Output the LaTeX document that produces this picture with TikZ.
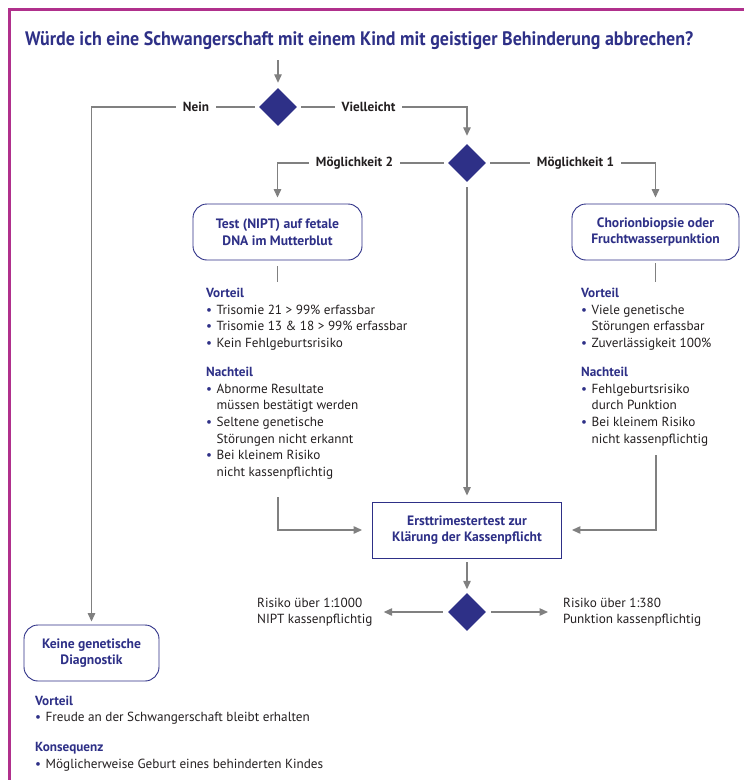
\documentclass[tikz,border=0pt]{standalone}
\usepackage{fontspec}
\setmainfont{PT Sans}
\usetikzlibrary{shapes.geometric,arrows.meta}
\definecolor{dblue}{HTML}{2E3087}
\definecolor{framemag}{HTML}{B0308C}
\definecolor{lgrey}{HTML}{808080}
\definecolor{txtc}{HTML}{231F20}
\newcommand{\bul}{\textcolor{dblue}{\textbullet}}
\newcommand{\hd}[1]{\textcolor{dblue}{\bfseries #1}}
\newcommand{\hdrow}[1]{\multicolumn{2}{@{}l@{}}{\hd{#1}}}
\begin{document}
\begin{tikzpicture}[x=1pt,y=-1pt,
  dia/.style={diamond, fill=dblue, minimum width=38pt, minimum height=38pt, inner sep=0pt},
  rbox/.style={draw=dblue, line width=0.9pt, rounded corners=14pt, align=center, text=dblue,
    font=\bfseries\fontsize{13.6}{16.5}\selectfont, inner sep=0pt},
  sbox/.style={draw=dblue, line width=0.9pt, align=center, text=dblue,
    font=\bfseries\fontsize{13.6}{16.5}\selectfont, inner sep=0pt},
  conn/.style={draw=lgrey, line width=1.3pt},
  arr/.style={conn, -{Triangle[width=7.5pt,length=8.5pt]}, shorten >=5pt},
  lbl/.style={fill=white, inner xsep=7pt, inner ysep=2pt, text=txtc, font=\bfseries\fontsize{13.2}{15}\selectfont},
  blk/.style={inner sep=0pt, text=txtc, font=\fontsize{13.2}{16.6}\selectfont},
]
\useasboundingbox (0,0) rectangle (744,780);
\fill[white] (0,0) rectangle (744,780);
% frame
\draw[framemag, line width=2.5pt] (9.5,780) -- (9.5,9.5) -- (744,9.5);

% title
\node[anchor=base west, inner sep=0pt, text=dblue, font=\bfseries\fontsize{19.5}{22}\selectfont] (title) at (25,45)
  {\resizebox{668pt}{\height}{Würde ich eine Schwangerschaft mit einem Kind mit geistiger Behinderung abbrechen?}};

% decision diamonds
\node[dia] (d1) at (278,107) {};
\node[dia] (d2) at (467,163) {};
\node[dia] (d3) at (467,612) {};

% boxes
\node[rbox, minimum width=169pt, minimum height=56pt] (nipt) at (277.5,232) {Test (NIPT) auf fetale\\DNA im Mutterblut};
\node[rbox, minimum width=167pt, minimum height=56pt] (chor) at (655.5,232) {Chorionbiopsie oder\\Fruchtwasserpunktion};
\node[sbox, minimum width=189pt, minimum height=56pt] (erst) at (467,530) {Ersttrimestertest zur\\Klärung der Kassenpflicht};
\node[rbox, minimum width=135pt, minimum height=56pt] (keine) at (91.5,653) {Keine genetische\\Diagnostik};

% risk texts
\node[blk, anchor=west, align=left] (r1) at (257,612) {Risiko über 1:1000\\NIPT kassenpflichtig};
\node[blk, anchor=west, align=left] (r2) at (563,612) {Risiko über 1:380\\Punktion kassenpflichtig};

% connectors
\coordinate (t0) at (278,60);
\draw[arr] (t0) -- (d1);
\draw[arr, shorten <=4pt, shorten >=3pt] (d1.west) -| (keine.north);
\draw[arr, shorten <=4pt, shorten >=8pt] (d1.east) -| (d2.north);
\draw[arr, shorten <=4pt, shorten >=6pt] (d2.west) -| (nipt.north);
\draw[arr, shorten <=4pt, shorten >=6pt] (d2.east) -| (chor.north);
\draw[arr, shorten <=5pt, shorten >=6pt] (d2.south) -- (d2.south |- erst.north);
\draw[conn, shorten <=6pt] (nipt.south) -- ++(0,22);
\draw[conn, shorten <=3pt] (chor.south) -- ++(0,22);
\coordinate (nb) at (278,497);
\coordinate (cb) at (656,455);
\draw[arr, shorten >=10pt] (nb) |- (erst.west);
\draw[arr, shorten >=10pt] (cb) |- (erst.east);
\draw[arr, shorten <=4pt, shorten >=3.5pt] (erst.south) -- (d3.north);
\draw[arr, shorten <=5pt, shorten >=11pt] (d3.west) -- (d3.west -| r1.east);
\draw[arr, shorten <=5pt, shorten >=15pt] (d3.east) -- (d3.east -| r2.west);

% labels on connectors
\node[lbl] (lnein) at (196,107) {Nein};
\node[lbl] (lviel) at (368.5,107) {Vielleicht};
\node[lbl] (lm2) at (354.5,163) {Möglichkeit 2};
\node[lbl] (lm1) at (575.5,163) {Möglichkeit 1};

% info blocks
\node[blk, anchor=base west] (niptinfo) at (206,297.5) {%
\begin{tabular}[t]{@{}l@{\hspace{4.5pt}}l@{}}
\hdrow{Vorteil}\\
\bul & Trisomie 21 > 99\% erfassbar\\
\bul & Trisomie 13 \& 18 > 99\% erfassbar\\
\bul & Kein Fehlgeburtsrisiko\\[12.8pt]
\hdrow{Nachteil}\\
\bul & Abnorme Resultate\\
 & müssen bestätigt werden\\
\bul & Seltene genetische\\
 & Störungen nicht erkannt\\
\bul & Bei kleinem Risiko\\
 & nicht kassenpflichtig
\end{tabular}};

\node[blk, anchor=base west] (chorinfo) at (581,297.5) {%
\begin{tabular}[t]{@{}l@{\hspace{4.5pt}}l@{}}
\hdrow{Vorteil}\\
\bul & Viele genetische\\
 & Störungen erfassbar\\
\bul & Zuverlässigkeit 100\%\\[12.8pt]
\hdrow{Nachteil}\\
\bul & Fehlgeburtsrisiko\\
 & durch Punktion\\
\bul & Bei kleinem Risiko\\
 & nicht kassenpflichtig
\end{tabular}};

\node[blk, anchor=base west] (keineinfo) at (35,705) {%
\begin{tabular}[t]{@{}l@{\hspace{4.5pt}}l@{}}
\hdrow{Vorteil}\\
\bul & Freude an der Schwangerschaft bleibt erhalten\\[13.5pt]
\hdrow{Konsequenz}\\
\bul & Möglicherweise Geburt eines behinderten Kindes
\end{tabular}};
\end{tikzpicture}
\end{document}
